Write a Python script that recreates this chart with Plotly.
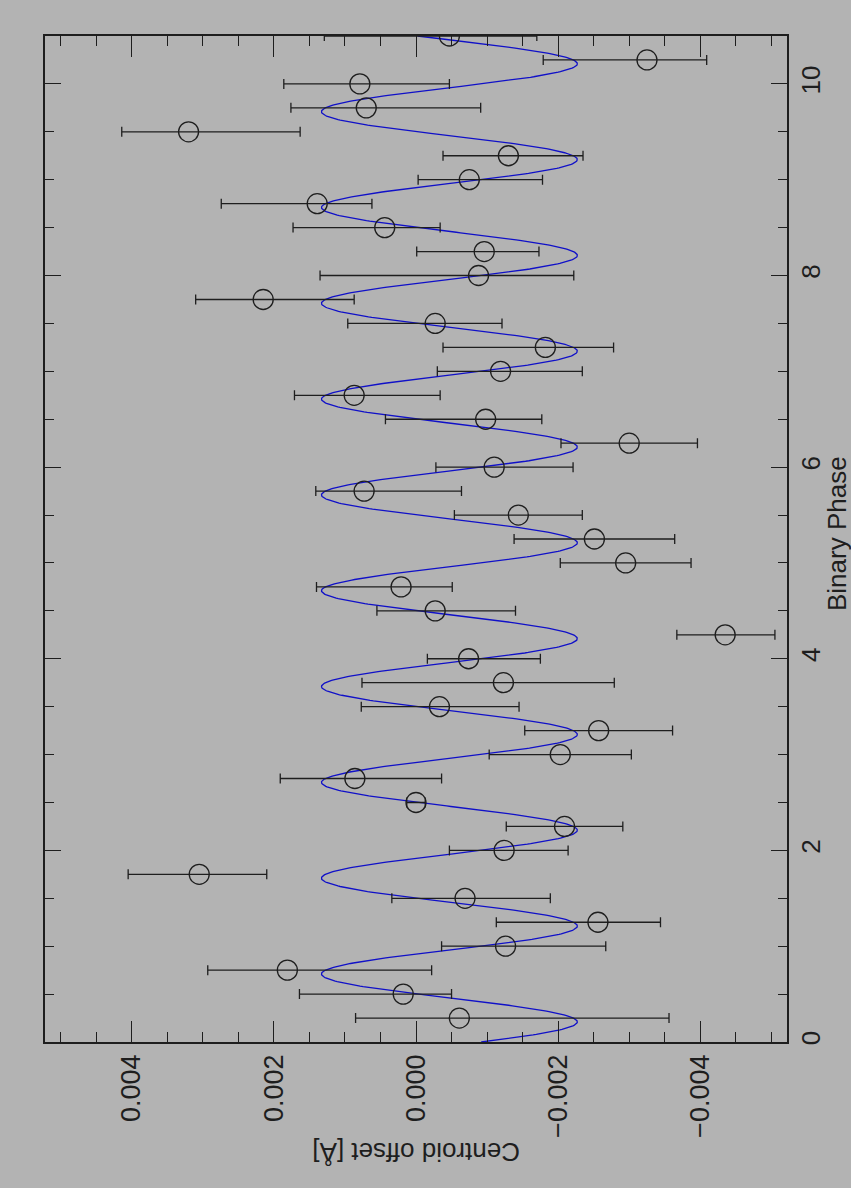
import numpy as np
import plotly.graph_objects as go

# Binary phase of each measurement
phase = [0.25, 0.5, 0.75, 1.0, 1.25, 1.5, 1.75, 2.0, 2.25, 2.5, 2.75, 3.0, 3.25, 3.5,
         3.75, 4.0, 4.25, 4.5, 4.75, 5.0, 5.25, 5.5, 5.75, 6.0, 6.25, 6.5, 6.75, 7.0,
         7.25, 7.5, 7.75, 8.0, 8.25, 8.5, 8.75, 9.0, 9.25, 9.5, 9.75, 10.0, 10.25, 10.5]
# Centroid offset (units of 1e-3 Angstrom)
offset_milli = [-0.61, 0.18, 1.81, -1.26, -2.56, -0.69, 3.05, -1.24, -2.09, 0.00, 0.86,
                -2.03, -2.57, -0.33, -1.23, -0.74, -4.35, -0.27, 0.21, -2.95, -2.51, -1.44,
                0.73, -1.10, -3.00, -0.98, 0.87, -1.19, -1.82, -0.27, 2.15, -0.88, -0.96,
                0.44, 1.39, -0.75, -1.30, 3.20, 0.70, 0.79, -3.25, -0.47]
# Error bar extent towards positive offsets (1e-3 Angstrom)
err_plus_milli = [1.46, 1.46, 1.12, 0.90, 1.43, 1.03, 1.00, 0.77, 0.82, 0.13, 1.05, 1.00,
                  1.04, 1.10, 1.99, 0.58, 0.68, 0.82, 1.19, 0.92, 1.13, 0.90, 0.68, 0.82,
                  0.96, 1.41, 0.84, 0.89, 1.44, 1.23, 0.95, 2.23, 0.95, 1.29, 1.35, 0.72,
                  0.92, 0.94, 1.06, 1.07, 1.46, 1.76]
# Error bar extent towards negative offsets (1e-3 Angstrom)
err_minus_milli = [2.95, 0.68, 2.03, 1.41, 0.88, 1.20, 0.95, 0.90, 0.82, 0.13, 1.22, 1.00,
                   1.04, 1.12, 1.56, 1.01, 0.70, 1.13, 0.72, 0.92, 1.13, 0.90, 1.37, 1.11,
                   0.96, 0.79, 1.21, 1.15, 0.96, 0.94, 1.28, 1.34, 0.77, 0.78, 0.77, 1.03,
                   1.05, 1.57, 1.61, 1.26, 0.84, 1.23]

# Sinusoidal model fit parameters (units of 1e-3 Angstrom / phase)
fit_mean_milli = -0.47
fit_amp_milli = 1.80
fit_peak_phase = 0.71

x_ticks = [0.004, 0.002, 0.0, -0.002, -0.004]
x_ticktext = ["0.004", "0.002", "0.000", "\u22120.002", "\u22120.004"]
y_ticks = [0, 2, 4, 6, 8, 10]

offset = [v * 1e-3 for v in offset_milli]
err_plus = [e * 1e-3 for e in err_plus_milli]
err_minus = [e * 1e-3 for e in err_minus_milli]

model_phase = np.linspace(0, 10.5, 2000)
model_offset = (fit_mean_milli + fit_amp_milli * np.cos(2 * np.pi * (model_phase - fit_peak_phase))) * 1e-3

ink = "#1e1e1e"
bg = "#b3b3b3"
font = "Liberation Sans, Arial, sans-serif"

L, R, T, B = 45, 64, 36, 146
W, H = 851, 1188
pw, ph = W - L - R, H - T - B


def px_to_paper(xp, yp):
    return (xp - L) / pw, (H - yp - B) / ph


fig = go.Figure()
fig.add_trace(go.Scatter(
    x=model_offset, y=model_phase, mode="lines",
    line=dict(color="#1010c8", width=1.3), hoverinfo="skip"))
fig.add_trace(go.Scatter(
    x=offset, y=phase, mode="markers",
    marker=dict(symbol="circle-open", size=20, color=ink, line=dict(width=1.3, color=ink)),
    error_x=dict(type="data", symmetric=False, array=err_plus, arrayminus=err_minus,
                 visible=True, color=ink, thickness=1.3, width=5)))

bx, by = px_to_paper(837, 534)
cx, cy = px_to_paper(416, 1152)

fig.update_layout(
    width=W, height=H,
    margin=dict(l=L, r=R, t=T, b=B),
    paper_bgcolor=bg, plot_bgcolor=bg,
    showlegend=False,
    font=dict(family=font, color=ink, size=26),
    xaxis=dict(range=[0.00522, -0.00522], tickvals=x_ticks, ticktext=x_ticktext,
               tickangle=-90, ticks="inside", ticklen=21, tickwidth=1.3, tickcolor=ink,
               showline=True, linecolor=ink, linewidth=1.5, mirror="allticks",
               showgrid=False, zeroline=False,
               minor=dict(ticks="inside", dtick=0.0005, ticklen=10, tickwidth=1.3,
                          tickcolor=ink, showgrid=False),
               tickfont=dict(size=27)),
    yaxis=dict(range=[0, 10.5], tickvals=y_ticks, side="right",
               tickangle=-90, ticks="inside", ticklen=16, tickwidth=1.3, tickcolor=ink,
               showline=True, linecolor=ink, linewidth=1.5, mirror="allticks",
               showgrid=False, zeroline=False,
               minor=dict(ticks="inside", dtick=0.5, ticklen=9, tickwidth=1.3,
                          tickcolor=ink, showgrid=False),
               tickfont=dict(size=26)),
    annotations=[
        dict(text="Binary Phase", x=bx, y=by, xref="paper", yref="paper",
             xanchor="center", yanchor="middle",
             showarrow=False, textangle=-90, font=dict(size=26)),
        dict(text="Centroid offset [Å]", x=cx, y=cy, xref="paper", yref="paper",
             xanchor="center", yanchor="middle",
             showarrow=False, textangle=180, font=dict(size=26)),
    ],
)

fig.write_html("out.html")
